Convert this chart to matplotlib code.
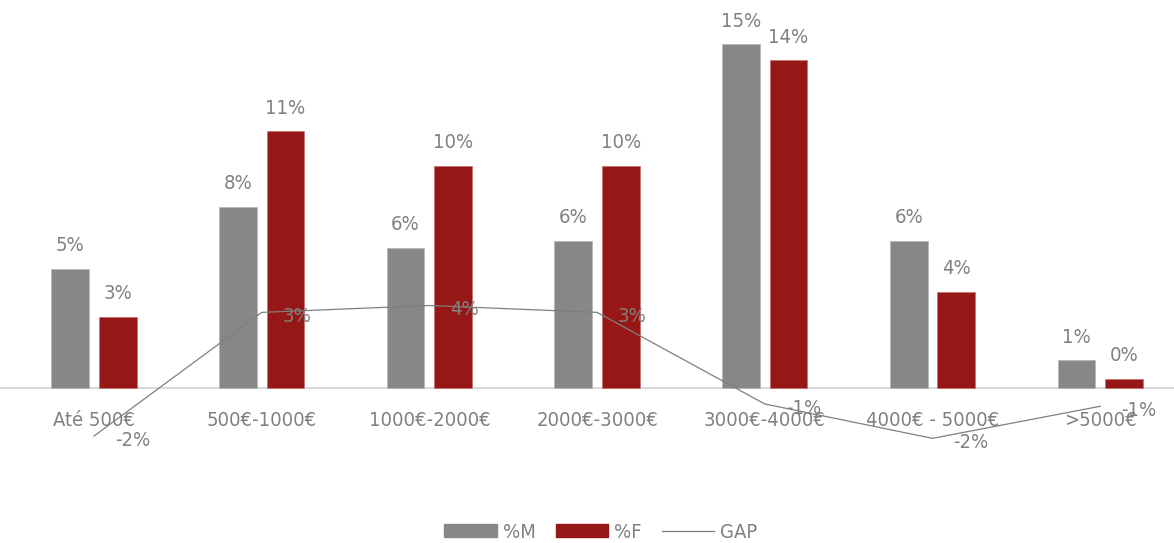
import matplotlib
matplotlib.use("Agg")
import matplotlib.pyplot as plt
import numpy as np
from matplotlib.patches import Patch
from matplotlib.lines import Line2D
from matplotlib import font_manager as fm

categories = ["Até 500€", "500€-1000€", "1000€-2000€", "2000€-3000€", "3000€-4000€", "4000€ - 5000€", ">5000€"]
pct_m = [5.2, 7.9, 6.1, 6.4, 15.0, 6.4, 1.2]
pct_f = [3.1, 11.2, 9.7, 9.7, 14.3, 4.2, 0.4]
gap = [-2.1, 3.3, 3.6, 3.3, -0.7, -2.2, -0.8]

fs = 14.5
FP = fm.FontProperties(family='DejaVu Sans', stretch='condensed', size=fs)

TXT = '#808080'
C_M = '#878787'
C_F = '#971717'

fig = plt.figure(figsize=(11.74, 5.43), dpi=100)
ax = fig.add_axes([0, 0, 1, 1])
x = np.arange(len(categories))
w = 0.225
off = 0.142
ax.bar(x - off, pct_m, width=w, color=C_M, edgecolor='#b5b5b5', linewidth=0.5, zorder=2)
ax.bar(x + off, pct_f, width=w, color=C_F, edgecolor='#c07070', linewidth=0.5, zorder=2)
ax.axhline(0, color='#d9d9d9', lw=1.5, zorder=1)
ax.plot(x, gap, color='#7f7f7f', lw=0.9, zorder=3)

for xi, v in zip(x - off, pct_m):
    ax.annotate(f"{v:.0f}%", (xi, v), xytext=(0, 10), textcoords='offset points',
                ha='center', va='bottom', fontproperties=FP, color=TXT)
for xi, v in zip(x + off, pct_f):
    ax.annotate(f"{v:.0f}%", (xi, v), xytext=(0, 10), textcoords='offset points',
                ha='center', va='bottom', fontproperties=FP, color=TXT)
for xi, v in zip(x, gap):
    ax.annotate(f"{v:.0f}%", (xi, v), xytext=(15, -3), textcoords='offset points',
                ha='left', va='center', fontproperties=FP, color=TXT, zorder=4)

for xi, c in zip(x, categories):
    ax.text(xi, -1.4, c, ha='center', va='center', fontproperties=FP, color=TXT, zorder=2)

ax.set_xlim(-0.5605, 6.44)
ax.set_ylim(-6.77, 16.94)
ax.axis('off')

handles = [Patch(color=C_M, label='%M'), Patch(color=C_F, label='%F'),
           Line2D([0], [0], color='#7f7f7f', lw=0.9, label='GAP')]
leg = fig.legend(handles=handles, loc='center', bbox_to_anchor=(601/1174, 1 - 532/543), ncol=3,
                 frameon=False, prop=FP, handlelength=2.6, handleheight=0.6,
                 handletextpad=0.3, columnspacing=1.0)
for t in leg.get_texts():
    t.set_color(TXT)

fig.savefig("out.png", dpi=100)
